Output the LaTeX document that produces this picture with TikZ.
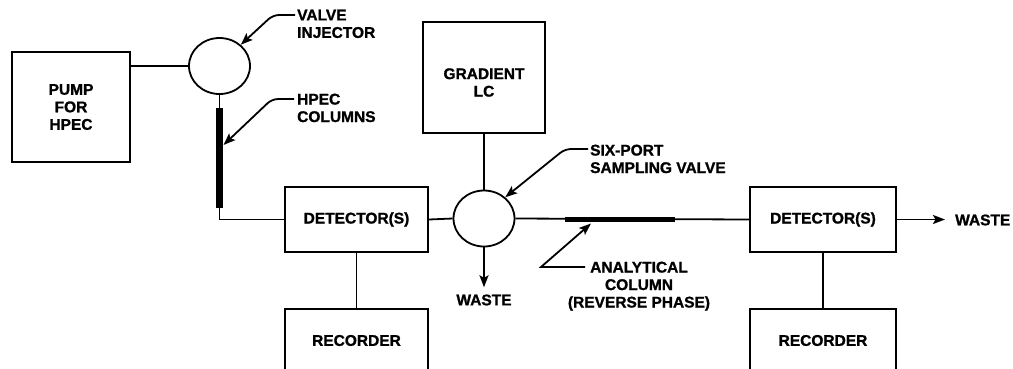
\documentclass[tikz,border=0pt]{standalone}
\usepackage{fontspec}
\setmainfont{Liberation Sans}[BoldFeatures={FakeBold=1.2}]
\usetikzlibrary{shapes.geometric,arrows.meta}
\begin{document}
\begin{tikzpicture}[x=1pt,y=-1pt,
  every node/.style={font=\fontsize{15.5}{17.5}\selectfont\bfseries, inner sep=0pt},
  box/.style={draw, line width=1.8pt},
  valve/.style={draw, ellipse, line width=1.8pt, minimum width=61pt, minimum height=56pt},
  conn/.style={line width=1.8pt},
  arr/.style={line width=1.8pt, -{Stealth[length=12pt,width=9pt,inset=2.5pt]}},
  lab/.style={align=left, anchor=north west},
  col/.style={line width=7pt}
]
\useasboundingbox (0,0) rectangle (1013,368);
\clip (0,0) rectangle (1013,368);
% boxes
\node[box, minimum width=118pt, minimum height=110pt, align=center] (pump) at (71,107) {PUMP\\FOR\\HPEC};
\node[valve] (inj) at (219.5,66) {};
\node[box, minimum width=143pt, minimum height=65pt] (det1) at (356.5,219.5) {DETECTOR(S)};
\node[box, minimum width=143pt, minimum height=63pt] (rec1) at (356.5,340.5) {RECORDER};
\node[box, minimum width=122pt, minimum height=111pt] (grad) at (484,77.5) {};
\node[align=center] (gradt) at (484,82.5) {GRADIENT\\LC};
\node[valve] (six) at (484,218.5) {};
\node[box, minimum width=146pt, minimum height=65pt] (det2) at (823,219.5) {DETECTOR(S)};
\node[box, minimum width=146pt, minimum height=63pt] (rec2) at (823,340.5) {RECORDER};
% connectors
\draw[conn] (pump.east |- inj.west) -- (inj.west);
\draw[conn] (inj.south) |- (det1.west);
\draw[col] (219.5,108) -- (219.5,208);
\draw[conn] (det1.east) -- (six.west);
\draw[conn] (grad.south) -- (six.north);
\draw[conn] (six.east) -- (det2.west);
\draw[line width=5pt] (565,219.5) -- (675,219.5);
\draw[conn] (det1.south) -- (rec1.north);
\draw[conn] (det2.south) -- (rec2.north);
% waste
\node[inner ysep=7pt] (w1) at (484,300) {WASTE};
\draw[arr] (six.south) -- (six.south |- w1.north);
\node[anchor=west, inner xsep=10pt] (w2) at (945,220) {WASTE};
\draw[arr] (det2.east) -- (det2.east -| w2.west);
% labels
\node[lab] (injlab) at (297,9.5) {VALVE\\INJECTOR};
\coordinate (injp) at (295,15);
\draw[arr, rounded corners=6pt] (injp) -- (273,15) -- (inj.45);
\node[lab] (hpeclab) at (297,93.5) {HPEC\\COLUMNS};
\coordinate (hpecp) at (294,99);
\coordinate (colpt) at (223.5,145);
\draw[arr, rounded corners=6pt] (hpecp) -- (272,99) -- (colpt);
\node[lab] (sixlab) at (590,144.5) {SIX-PORT\\SAMPLING VALVE};
\coordinate (sixp) at (588,149);
\draw[arr, rounded corners=6pt] (sixp) -- (565,149) -- (six.45);
\node[align=center, anchor=north] (anlab) at (639,261.5) {ANALYTICAL\\COLUMN\\(REVERSE PHASE)};
\coordinate (anp) at (585,267);
\coordinate (antip) at (591,223.5);
\draw[arr] (anp) -- (541,267) -- (antip);
\end{tikzpicture}
\end{document}
